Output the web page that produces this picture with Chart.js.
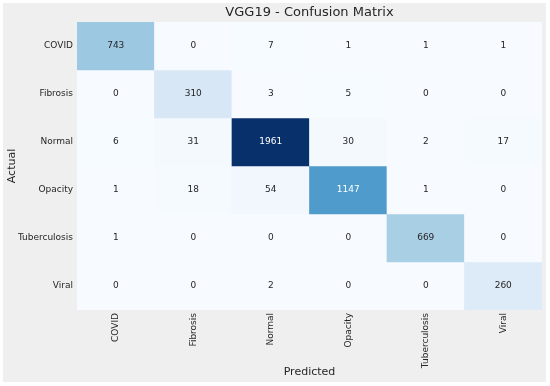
<!DOCTYPE html>
<html>
<head>
<meta charset="utf-8">
<script src="https://cdn.jsdelivr.net/npm/chart.js@4/dist/chart.umd.min.js"></script>
<style>
  html, body { margin: 0; padding: 0; background: #fff; }
  #wrap { width: 550px; height: 386px; }
</style>
</head>
<body>
<div id="wrap"><canvas id="cm" width="550" height="386"></canvas></div>
<script>
// class names (rows = actual, columns = predicted)
var classes = ['COVID', 'Fibrosis', 'Normal', 'Opacity', 'Tuberculosis', 'Viral'];

// confusion matrix rows, one per actual class
var covidRow = [743, 0, 7, 1, 1, 1];
var fibrosisRow = [0, 310, 3, 5, 0, 0];
var normalRow = [6, 31, 1961, 30, 2, 17];
var opacityRow = [1, 18, 54, 1147, 1, 0];
var tuberculosisRow = [1, 0, 0, 0, 669, 0];
var viralRow = [0, 0, 2, 0, 0, 260];

var matrix = [covidRow, fibrosisRow, normalRow, opacityRow, tuberculosisRow, viralRow];

// matplotlib "Blues" stops
var blues = ['#f7fbff', '#deebf7', '#c6dbef', '#9ecae1', '#6baed6', '#4292c6', '#2171b5', '#08519c', '#08306b'];

var vmax = 0;
matrix.forEach(function(r) { r.forEach(function(v) { if (v > vmax) vmax = v; }); });

function hexRgb(h) {
	return [parseInt(h.substr(1, 2), 16), parseInt(h.substr(3, 2), 16), parseInt(h.substr(5, 2), 16)];
}
function bluesColor(v) {
	var t = v / vmax * (blues.length - 1);
	var i = Math.min(Math.floor(t), blues.length - 2);
	var f = t - i;
	var a = hexRgb(blues[i]), b = hexRgb(blues[i + 1]);
	var c = [0, 1, 2].map(function(k) { return Math.round(a[k] + (b[k] - a[k]) * f); });
	return 'rgb(' + c.join(',') + ')';
}

// one floating-bar dataset per actual row
var datasets = [];
for (var r = 0; r < matrix.length; r++) {
	var d = [], colors = [];
	for (var c = 0; c < classes.length; c++) {
		d.push([r, r + 1]);
		colors.push(bluesColor(matrix[r][c]));
	}
	datasets.push({
		label: classes[r],
		data: d,
		values: matrix[r],
		backgroundColor: colors,
		borderWidth: 0,
		barPercentage: 1,
		categoryPercentage: 1,
		grouped: false
	});
}

var frameBg = {
	id: 'frameBg',
	beforeDraw: function(chart) {
		var ctx = chart.ctx;
		ctx.save();
		ctx.fillStyle = '#efefef';
		ctx.fillRect(3, 3, 543, 379);
		ctx.restore();
	}
};

var cellText = {
	id: 'cellText',
	afterDatasetsDraw: function(chart) {
		var ctx = chart.ctx;
		ctx.save();
		ctx.font = '9px "DejaVu Sans"';
		ctx.textAlign = 'center';
		ctx.textBaseline = 'middle';
		chart.data.datasets.forEach(function(ds, i) {
			chart.getDatasetMeta(i).data.forEach(function(bar, j) {
				var v = ds.values[j];
				ctx.fillStyle = v / vmax > 0.5 ? '#ffffff' : '#262626';
				ctx.fillText(String(v), bar.x, (bar.y + bar.base) / 2);
			});
		});
		ctx.restore();
	}
};

var ctx = document.getElementById('cm');
var chart = new Chart(ctx, {
	type: 'bar',
	data: { labels: classes, datasets: datasets },
	plugins: [frameBg, cellText],
	options: {
		responsive: false,
		animation: false,
		layout: { padding: { left: 3, right: 8, top: 0, bottom: 4 } },
		plugins: {
			legend: { display: false },
			tooltip: { enabled: false },
			title: {
				display: true,
				text: 'VGG19 - Confusion Matrix',
				fullSize: false,
				color: '#262626',
				font: { family: 'DejaVu Sans', size: 13, weight: 'normal' },
				padding: { top: 5, bottom: 1.4 }
			}
		},
		scales: {
			x: {
				type: 'category',
				offset: true,
				grid: { display: false, drawTicks: false },
				border: { display: false },
				ticks: {
					color: '#262626',
					font: { family: 'DejaVu Sans', size: 9 },
					minRotation: 90,
					maxRotation: 90,
					padding: 3
				},
				title: {
					display: true,
					text: 'Predicted',
					color: '#262626',
					font: { family: 'DejaVu Sans', size: 11 },
					padding: { top: 3, bottom: 3.5 }
				},
				afterFit: function(s) { s.height = 72; }
			},
			y: {
				type: 'linear',
				reverse: true,
				min: 0,
				max: 6,
				grid: { display: false, drawTicks: false },
				border: { display: false },
				afterBuildTicks: function(s) {
					s.ticks = classes.map(function(_, i) { return { value: i + 0.5 }; });
				},
				ticks: {
					color: '#262626',
					font: { family: 'DejaVu Sans', size: 9 },
					padding: 4,
					callback: function(v) { return classes[Math.floor(v)]; }
				},
				title: {
					display: true,
					text: 'Actual',
					color: '#262626',
					font: { family: 'DejaVu Sans', size: 11 },
					padding: { top: 3, bottom: 3 }
				},
				afterFit: function(s) { s.width = 74; }
			}
		}
	}
});
</script>
</body>
</html>
